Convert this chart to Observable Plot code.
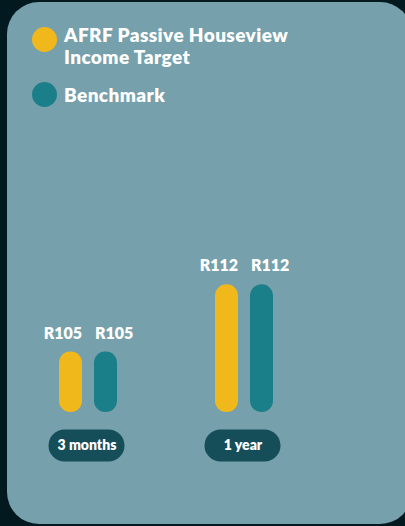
<!DOCTYPE html>
<html><head><meta charset="utf-8">
<script src="https://cdn.jsdelivr.net/npm/d3@7"></script>
<script src="https://cdn.jsdelivr.net/npm/@observablehq/plot@0.6"></script>
<style>
html,body{margin:0;padding:0;background:#021a1f;width:405px;height:526px;overflow:hidden;font-family:Lato,sans-serif;}
#card{position:absolute;left:7px;top:2px;width:405px;height:522px;border-radius:32px;background:#76a0ab;}
.dot{position:absolute;width:25px;height:25px;border-radius:50%;}
.lab{position:absolute;left:64px;color:#fff;font-weight:800;font-size:19px;line-height:22px;letter-spacing:0.4px;white-space:nowrap;}
#chart{position:absolute;left:0;top:130px;}
</style></head>
<body>
<div id="card"></div>
<div id="legend"></div>
<div id="chart"></div>
<script>
const periods = ["3 months", "1 year"];
const seriesNames = ["AFRF Passive Houseview Income Target", "Benchmark"];
const legendLines = [["AFRF Passive Houseview", "Income Target"], ["Benchmark"]];
const values3m = [105, 105];
const values1y = [112, 112];
const yBase = 98.7;
const colors = ["#f1b81c", "#1b7f89"];

const data = [];
[values3m, values1y].forEach((vals, i) => vals.forEach((v, j) => data.push({period: periods[i], series: seriesNames[j], value: v})));

// legend
const legend = document.getElementById("legend");
const legendTops = [23.6, 83.6];
const dotTops = [27, 81.5];
legendLines.forEach((lines, i) => {
  const d = document.createElement("div");
  d.className = "dot"; d.style.left = "32px"; d.style.top = dotTops[i] + "px"; d.style.background = colors[i];
  legend.appendChild(d);
  const t = document.createElement("div");
  t.className = "lab"; t.style.top = legendTops[i] + "px";
  t.innerHTML = lines.join("<br>");
  legend.appendChild(t);
});

const chart = Plot.plot({
  width: 405, height: 396,
  marginLeft: 48, marginRight: 120.5, marginTop: 20, marginBottom: 114,
  fx: {domain: periods, axis: null, paddingInner: 0.489, paddingOuter: 0, label: null},
  x: {domain: seriesNames, axis: null, paddingInner: 0.357, paddingOuter: 0.321},
  y: {domain: [yBase, 126], axis: null},
  color: {domain: seriesNames, range: colors},
  style: {background: "transparent", fontFamily: "Lato, sans-serif"},
  marks: [
    Plot.barY(data, {fx: "period", x: "series", y1: yBase, y2: "value", fill: "series", rx: 11.25}),
    Plot.text(data.filter(d => d.series === seriesNames[0]), {fx: "period", x: "series", y: "value", text: d => "R" + d.value, dx: 11, dy: -13.5, textAnchor: "end", lineAnchor: "bottom", fill: "white", fontSize: 16, fontWeight: 800}),
    Plot.text(data.filter(d => d.series === seriesNames[1]), {fx: "period", x: "series", y: "value", text: d => "R" + d.value, dx: -11, dy: -13.5, textAnchor: "start", lineAnchor: "bottom", fill: "white", fontSize: 16, fontWeight: 800}),
    Plot.tickY(periods, {fx: d => d, y: yBase, dy: 33, dx: -1.5, stroke: "#154e58", strokeWidth: 32, strokeLinecap: "round", insetLeft: 18, insetRight: 18}),
    Plot.text(periods, {fx: d => d, y: yBase, dy: 33, dx: -1.5, text: d => d, fill: "white", fontSize: 14, fontWeight: 800})
  ]
});
document.getElementById("chart").appendChild(chart);
</script>
</body></html>
